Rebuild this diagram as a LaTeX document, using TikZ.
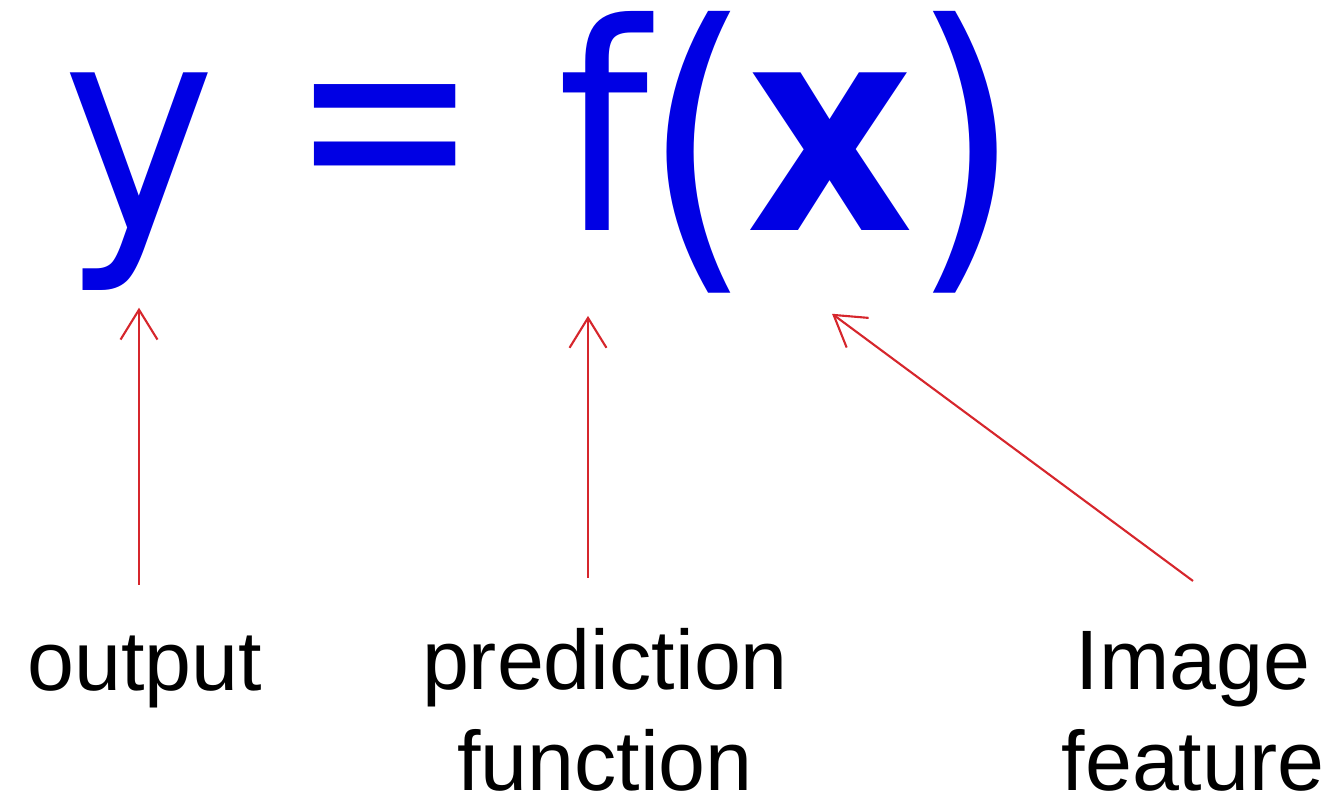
\documentclass[tikz,border=0pt]{standalone}
\usepackage{fontspec}
\setmainfont{Liberation Sans}
\newfontfamily\formfont[FakeStretch=0.9]{DejaVu Sans}
\usepackage{xcolor}
\usetikzlibrary{arrows.meta}

\definecolor{formblue}{RGB}{0,0,228}
\definecolor{arrowred}{RGB}{214,38,44}

\begin{document}
\begin{tikzpicture}[
    x=0.01cm, y=-0.01cm,
    glyph/.style ={anchor=base, inner sep=0pt, text=formblue,
                   font=\formfont\fontsize{82}{90}\selectfont},
    paren/.style ={glyph, font=\formfont\fontsize{90}{96}\selectfont},
    word/.style  ={anchor=base, inner sep=0pt, align=center,
                   font=\fontsize{24}{28.5}\selectfont},
    flow/.style  ={-{Straight Barb[length=8.5pt, width=10.5pt]},
                   arrowred, line width=0.6pt}
]
\useasboundingbox (0,0) rectangle (1343,803);

% Formula: y = f(x)
\node[glyph] (yy) at (139,230) {y};
\node[glyph, xscale=0.87, transform shape] (eq) at (385,215) {=};
\node[glyph] (ff) at (603,230) {f};
\node[paren] (lp) at (698,251) {(};
\node[glyph] (xx) at (830,230) {\bfseries x};
\node[paren] (rp) at (966,251) {)};

% Labels underneath (base = last line)
\node[word] (out)  at (145,690)  {output};
\node[word] (pred) at (605,790)  {prediction\\function};
\node[word] (feat) at (1193,790) {Image\\feature};

% --- Arrows ---
\draw[flow] ([yshift=5mm]out.north -| yy.south) -- ([yshift=-1.7mm]yy.south);
\draw[flow] ([xshift=-1.7mm, yshift=5mm]pred.north) -- ++(0,-262);
\draw[flow] ([yshift=5mm]feat.north) -- ([xshift=0.2mm, yshift=-8.3mm]xx.south);

\end{tikzpicture}
\end{document}
